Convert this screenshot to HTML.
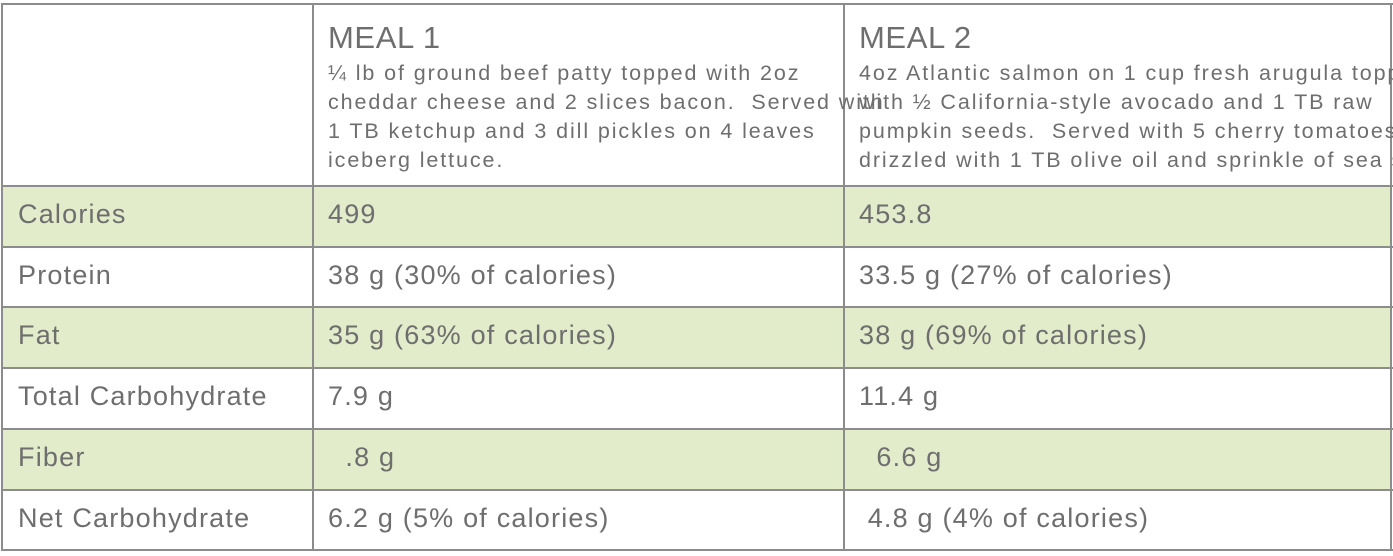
<!DOCTYPE html>
<html><head><meta charset="utf-8"><style>
body{margin:0;width:1393px;height:556px;background:#fff;position:relative;overflow:hidden;font-family:"Liberation Sans",sans-serif;color:#6e6e6e}
.h{position:absolute;background:#8c8c8c;height:2px}
.v{position:absolute;background:#8c8c8c;width:2px}
.band{position:absolute;left:2px;width:1389px;background:#e2ebca}
.t{position:absolute;font-size:27px;letter-spacing:1.2px;white-space:nowrap}
.title{position:absolute;font-size:31px;letter-spacing:0.6px;white-space:nowrap}
.desc{position:absolute;font-size:21.5px;letter-spacing:1.9px;line-height:29px;white-space:nowrap}
</style></head><body>
<div class="band" style="top:186px;height:61px"></div>
<div class="band" style="top:307px;height:61px"></div>
<div class="band" style="top:429px;height:61px"></div>
<div class="h" style="left:2px;width:1391px;top:3px"></div>
<div class="h" style="left:2px;width:1391px;top:185px"></div>
<div class="h" style="left:2px;width:1391px;top:246px"></div>
<div class="h" style="left:2px;width:1391px;top:306px"></div>
<div class="h" style="left:2px;width:1391px;top:367px"></div>
<div class="h" style="left:2px;width:1391px;top:428px"></div>
<div class="h" style="left:2px;width:1391px;top:489px"></div>
<div class="h" style="left:2px;width:1391px;top:549px"></div>
<div class="v" style="left:1px;top:3px;height:548px"></div>
<div class="v" style="left:312px;top:3px;height:548px"></div>
<div class="v" style="left:843px;top:3px;height:548px"></div>
<div class="v" style="left:1390px;top:3px;height:548px"></div>

<div class="title" style="left:328px;top:20px">MEAL 1</div>
<div class="desc" style="left:328px;top:59px">¼ lb of ground beef patty topped with 2oz<br>cheddar cheese and 2 slices bacon.&nbsp; Served with<br>1 TB ketchup and 3 dill pickles on 4 leaves<br>iceberg lettuce.</div>
<div class="title" style="left:859px;top:20px">MEAL 2</div>
<div class="desc" style="left:859px;top:59px">4oz Atlantic salmon on 1 cup fresh arugula topped<br>with ½ California-style avocado and 1 TB raw<br>pumpkin seeds.&nbsp; Served with 5 cherry tomatoes<br>drizzled with 1 TB olive oil and sprinkle of sea salt.</div>

<div class="t" style="left:18px;top:199px">Calories</div>
<div class="t" style="left:328px;top:199px">499</div>
<div class="t" style="left:859px;top:199px">453.8</div>

<div class="t" style="left:18px;top:260px">Protein</div>
<div class="t" style="left:328px;top:260px">38 g (30% of calories)</div>
<div class="t" style="left:859px;top:260px">33.5 g (27% of calories)</div>

<div class="t" style="left:18px;top:320px">Fat</div>
<div class="t" style="left:328px;top:320px">35 g (63% of calories)</div>
<div class="t" style="left:859px;top:320px">38 g (69% of calories)</div>

<div class="t" style="left:18px;top:381px">Total Carbohydrate</div>
<div class="t" style="left:328px;top:381px">7.9 g</div>
<div class="t" style="left:859px;top:381px">11.4 g</div>

<div class="t" style="left:18px;top:442px">Fiber</div>
<div class="t" style="left:328px;top:442px">&nbsp;&nbsp;.8 g</div>
<div class="t" style="left:859px;top:442px">&nbsp;&nbsp;6.6 g</div>

<div class="t" style="left:18px;top:503px">Net Carbohydrate</div>
<div class="t" style="left:328px;top:503px">6.2 g (5% of calories)</div>
<div class="t" style="left:859px;top:503px">&nbsp;4.8 g (4% of calories)</div>
</body></html>
